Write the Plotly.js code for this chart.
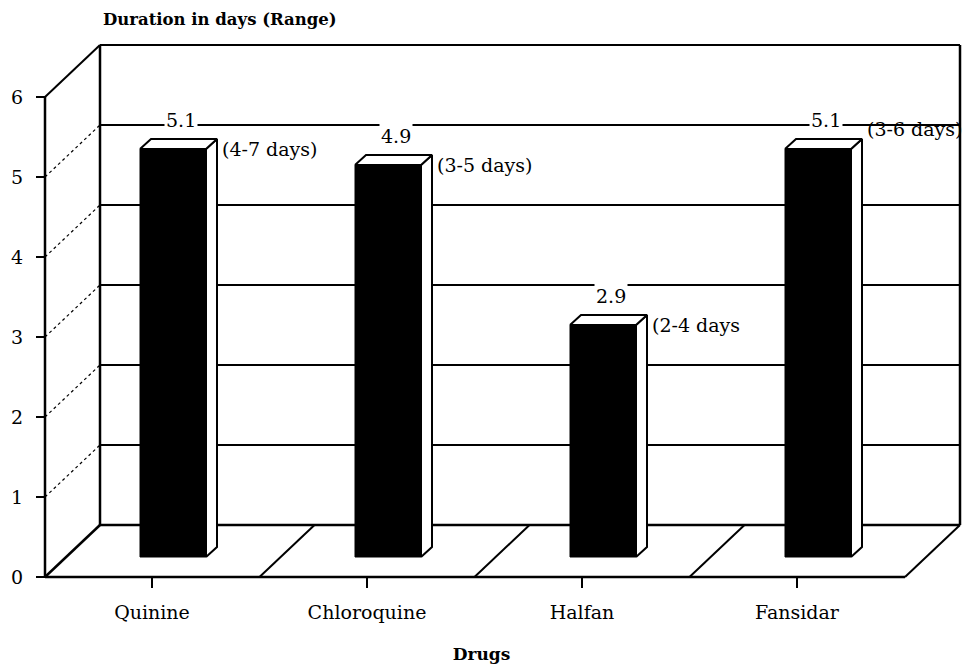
<!DOCTYPE html>
<html>
<head>
<meta charset="utf-8">
<script src="https://cdn.plot.ly/plotly-3.0.1.min.js"></script>
<style>html,body{margin:0;padding:0;background:#fff;}#chart{width:963px;height:664px;}</style>
</head>
<body>
<div id="chart"></div>
<script>
// ---- data ----
const drugs = ['Quinine', 'Chloroquine', 'Halfan', 'Fansidar'];
const meanDays = [5.1, 4.9, 2.9, 5.1];
const rangeLabels = ['(4-7 days)', '(3-5 days)', '(2-4 days', '(3-6 days)'];
const yTicks = [0, 1, 2, 3, 4, 5, 6];

// ---- layout geometry (pseudo-3D frame) ----
const FONT = 'DejaVu Serif, Liberation Serif, serif';
const X0 = 152, STEP = 215;          // category positions on the front floor edge
const DX = 55, DY = 0.65;            // depth offset of the back wall
const BAR_OFF_X = 21, BAR_BASE = 0.25; // bars sit part-way into the floor
const BAR_W = 66, BDX = 11, BDY = 0.125; // bar width and bar depth
const YMAX = 6;
const LEFT = 45, RIGHT_FRONT = 905;

const catX = drugs.map((d, i) => X0 + STEP * i);
const barX = catX.map(x => x + BAR_OFF_X);
const tops = meanDays.map(v => v + BAR_BASE);

const bars = {
  type: 'bar', x: barX, y: meanDays, base: BAR_BASE, width: BAR_W,
  marker: {color: '#000', line: {color: '#000', width: 1}},
  hoverinfo: 'skip', showlegend: false
};

// top and side faces of each bar
const topX = [], topY = [], sideX = [], sideY = [];
barX.forEach((cx, i) => {
  const l = cx - BAR_W / 2, r = cx + BAR_W / 2, t = tops[i];
  topX.push(l, l + BDX, r + BDX, r, l, null);
  topY.push(t, t + BDY, t + BDY, t, t, null);
  sideX.push(r, r + BDX, r + BDX, r, r, null);
  sideY.push(BAR_BASE, BAR_BASE + BDY, t + BDY, t, BAR_BASE, null);
});
const faceStyle = {type: 'scatter', mode: 'lines', fill: 'toself', fillcolor: '#fff',
  line: {color: '#000', width: 2}, hoverinfo: 'skip', showlegend: false};
const topFaces = Object.assign({x: topX, y: topY}, faceStyle);
const sideFaces = Object.assign({x: sideX, y: sideY}, faceStyle);

// ---- frame shapes ----
const shapes = [];
function ln(x0, y0, x1, y1, w, dash) {
  shapes.push({type: 'line', xref: 'x', yref: 'y', x0, y0, x1, y1, layer: 'below',
    line: {color: '#000', width: w, dash: dash || 'solid'}});
}
const backL = LEFT + DX, backR = RIGHT_FRONT + DX;
// back wall
ln(backL, DY, backL, YMAX + DY, 2.5);
ln(backL, YMAX + DY, backR, YMAX + DY, 2);
ln(backR, DY, backR, YMAX + DY, 2.5);
yTicks.forEach(v => { if (v < YMAX) ln(backL, v + DY, backR, v + DY, v === 0 ? 2.5 : 1.8); });
// side wall
ln(LEFT, 0, LEFT, YMAX, 2.5);
ln(LEFT, YMAX, backL, YMAX + DY, 2);
yTicks.forEach(v => { if (v > 0 && v < YMAX) ln(LEFT, v, backL, v + DY, 1.2, 'dot'); });
// floor
ln(LEFT, 0, backL, DY, 2.5);
ln(LEFT, 0, RIGHT_FRONT, 0, 2.5);
ln(RIGHT_FRONT, 0, backR, DY, 2);
catX.slice(0, -1).forEach(x => { const m = x + STEP / 2; ln(m, 0, m + DX, DY, 2); });

// ---- annotations ----
const annotations = [];
meanDays.forEach((v, i) => {
  annotations.push({x: barX[i] + 8, y: tops[i] + 0.36, xref: 'x', yref: 'y',
    text: v.toFixed(1), showarrow: false, bgcolor: '#fff', borderpad: 1,
    font: {family: FONT, size: 19, color: '#000'}});
  annotations.push({x: barX[i] + BAR_W / 2 + BDX + 3, y: tops[i], xref: 'x', yref: 'y',
    xanchor: 'left', yanchor: 'middle', yshift: i === meanDays.length - 1 ? 20 : 0,
    text: rangeLabels[i], showarrow: false,
    font: {family: FONT, size: 19, color: '#000'}});
});

const layout = {
  width: 963, height: 664,
  margin: {l: 0, r: 0, t: 40, b: 80},
  paper_bgcolor: '#fff', plot_bgcolor: 'rgba(0,0,0,0)',
  showlegend: false,
  title: {text: '<b>Duration in days (Range)</b>', xref: 'container', yref: 'container',
    x: 103 / 963, xanchor: 'left', y: 1 - 19 / 664, yanchor: 'middle',
    font: {family: FONT, size: 16.5, color: '#000'}},
  xaxis: {range: [0, 963], anchor: 'free', position: 7 / 544,
    tickmode: 'array', tickvals: catX, ticktext: drugs,
    ticks: 'outside', ticklen: 10, tickwidth: 2, tickcolor: '#000',
    ticklabelstandoff: 8,
    showgrid: false, zeroline: false, showline: false, fixedrange: true,
    tickfont: {family: FONT, size: 19, color: '#000'},
    title: {text: '<b>Drugs</b>', standoff: 28, font: {family: FONT, size: 17, color: '#000'}}},
  yaxis: {range: [-0.0875, 6.7125], anchor: 'free', position: LEFT / 963,
    tickmode: 'array', tickvals: yTicks,
    ticks: 'outside', ticklen: 9, tickwidth: 2, tickcolor: '#000',
    ticklabelstandoff: 9,
    showgrid: false, zeroline: false, showline: false, fixedrange: true,
    tickfont: {family: FONT, size: 19, color: '#000'}},
  shapes, annotations, bargap: 0
};

Plotly.newPlot('chart', [bars, sideFaces, topFaces], layout, {displayModeBar: false, staticPlot: true});
</script>
</body>
</html>
